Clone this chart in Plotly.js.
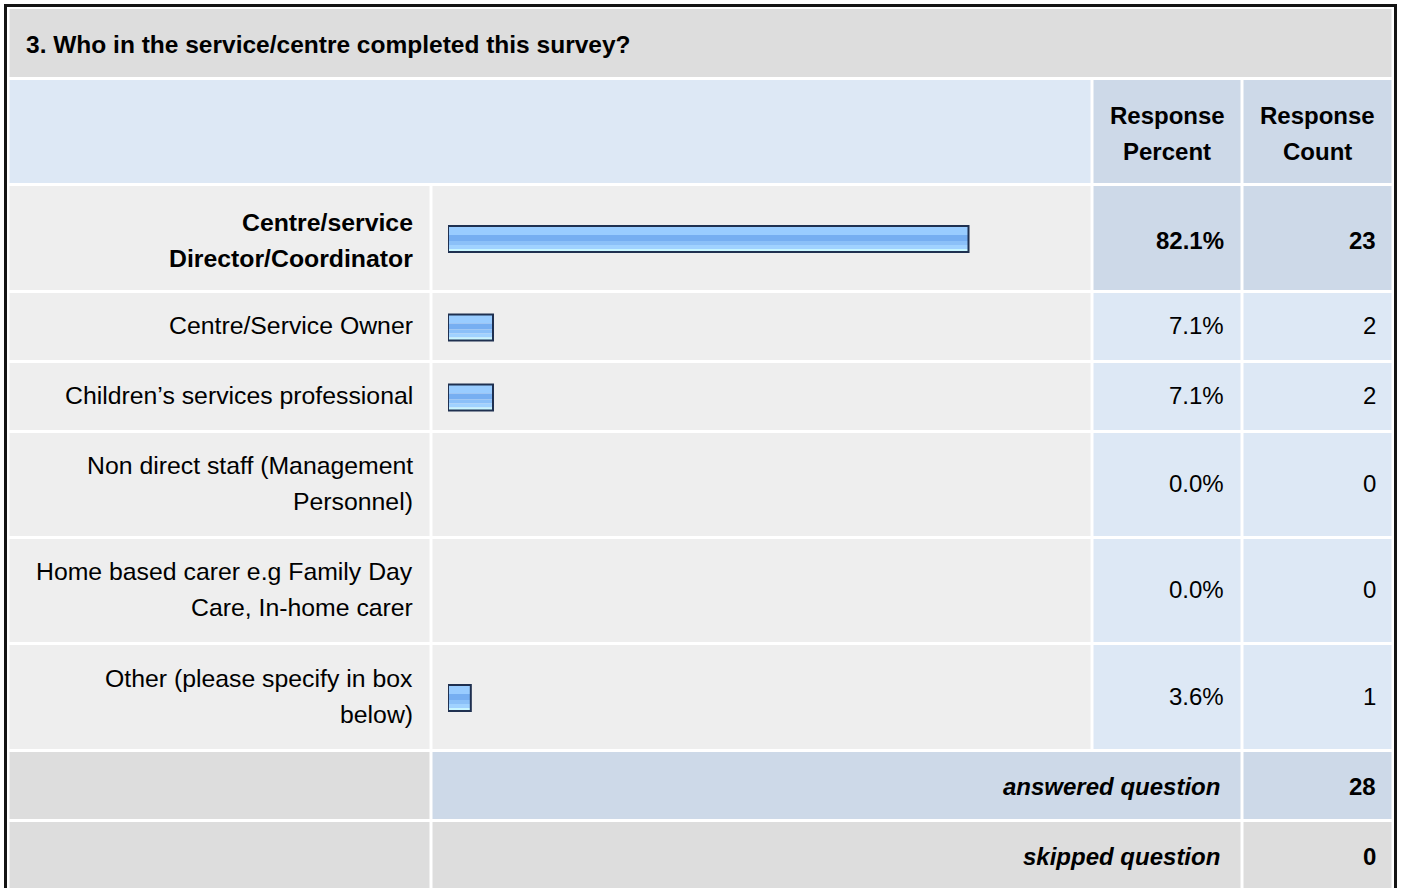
<!DOCTYPE html>
<html>
<head>
<meta charset="utf-8">
<script src="https://cdn.plot.ly/plotly-3.0.1.min.js"></script>
<style>
html,body{margin:0;padding:0;background:#fff;}
#chart{width:1401px;height:888px;}
</style>
</head>
<body>
<div id="chart"></div>
<script>
// ---- data ----
const questionTitle = "3. Who in the service/centre completed this survey?";
const categories = [
  "Centre/service Director/Coordinator",
  "Centre/Service Owner",
  "Children\u2019s services professional",
  "Non direct staff (Management Personnel)",
  "Home based carer e.g Family Day Care, In-home carer",
  "Other (please specify in box below)"
];
const categoryLines = [
  ["Centre/service", "Director/Coordinator"],
  ["Centre/Service Owner"],
  ["Children\u2019s services professional"],
  ["Non direct staff (Management", "Personnel)"],
  ["Home based carer e.g Family Day", "Care, In-home carer"],
  ["Other (please specify in box", "below)"]
];
const responsePercent = [82.1, 7.1, 7.1, 0.0, 0.0, 3.6];
const responseCount = [23, 2, 2, 0, 0, 1];
const headerPercent = ["Response", "Percent"];
const headerCount = ["Response", "Count"];
const answeredLabel = "answered question";
const answeredCount = 28;
const skippedLabel = "skipped question";
const skippedCount = 0;

// ---- layout geometry (pixels) ----
const W = 1401, H = 888;
const FONT = "Liberation Sans, Arial, Helvetica, sans-serif";
const cols = [[9.5, 429.5], [432.5, 1090.5], [1093.5, 1240.5], [1243.5, 1391.5]];
const titleRow = [9, 77];
const headerRow = [80, 183];
const dataRows = [[186, 290], [293, 360], [363, 430], [433, 536], [539, 642], [645, 749]];
const textNudge = [2, -1, -1, -1, -1, -1];
const answeredRow = [752, 819];
const skippedRow = [822, 895];
const labelRight = 413, pctRight = 1224, cntRight = 1376, summaryRight = 1220;
const lineGap = 36;

const C_GRAY = "#dddddd", C_ROW = "#eeeeee", C_LBLUE = "#dde8f5", C_BLUE = "#cdd9e8";

function px(x) { return x / W; }
function py(y) { return 1 - y / H; }

// highlight the max row
const maxIdx = responsePercent.indexOf(Math.max.apply(null, responsePercent));

const shapes = [];
function cell(x0, x1, y0, y1, color) {
  shapes.push({type: "rect", xref: "paper", yref: "paper", x0: px(x0), x1: px(x1), y0: py(y0), y1: py(y1),
    fillcolor: color, line: {width: 0}, layer: "below"});
}
cell(cols[0][0], cols[3][1], titleRow[0], titleRow[1], C_GRAY);
cell(cols[0][0], cols[1][1], headerRow[0], headerRow[1], C_LBLUE);
cell(cols[2][0], cols[2][1], headerRow[0], headerRow[1], C_BLUE);
cell(cols[3][0], cols[3][1], headerRow[0], headerRow[1], C_BLUE);
dataRows.forEach(function (r, i) {
  cell(cols[0][0], cols[0][1], r[0], r[1], C_ROW);
  cell(cols[1][0], cols[1][1], r[0], r[1], C_ROW);
  const c = (i === maxIdx) ? C_BLUE : C_LBLUE;
  cell(cols[2][0], cols[2][1], r[0], r[1], c);
  cell(cols[3][0], cols[3][1], r[0], r[1], c);
});
cell(cols[0][0], cols[0][1], answeredRow[0], answeredRow[1], C_GRAY);
cell(cols[1][0], cols[2][1], answeredRow[0], answeredRow[1], C_BLUE);
cell(cols[3][0], cols[3][1], answeredRow[0], answeredRow[1], C_BLUE);
cell(cols[0][0], cols[0][1], skippedRow[0], skippedRow[1], C_GRAY);
cell(cols[1][0], cols[2][1], skippedRow[0], skippedRow[1], C_GRAY);
cell(cols[3][0], cols[3][1], skippedRow[0], skippedRow[1], C_GRAY);
// outer frame
shapes.push({type: "rect", xref: "paper", yref: "paper", x0: px(5.5), x1: px(1395.5), y0: py(5.5), y1: py(1000),
  fillcolor: "rgba(0,0,0,0)", line: {color: "#141414", width: 3}, layer: "above"});

const annotations = [];
function txt(s, x, y, anchor, opts) {
  opts = opts || {};
  annotations.push({xref: "paper", yref: "paper", x: px(x), y: py(y), text: s, showarrow: false,
    xanchor: anchor, yanchor: "middle", borderpad: 0, borderwidth: 0,
    font: {family: FONT, size: opts.size || 24, color: "#000",
      weight: opts.bold ? 700 : 400, style: opts.italic ? "italic" : "normal"}});
}
txt(questionTitle, 26, (titleRow[0] + titleRow[1]) / 2 + 2, "left", {bold: true, size: 24.5});
const hc = (headerRow[0] + headerRow[1]) / 2 + 2;
txt(headerPercent[0], (cols[2][0] + cols[2][1]) / 2, hc - lineGap / 2, "center", {bold: true});
txt(headerPercent[1], (cols[2][0] + cols[2][1]) / 2, hc + lineGap / 2, "center", {bold: true});
txt(headerCount[0], (cols[3][0] + cols[3][1]) / 2, hc - lineGap / 2, "center", {bold: true});
txt(headerCount[1], (cols[3][0] + cols[3][1]) / 2, hc + lineGap / 2, "center", {bold: true});

const rowCenters = dataRows.map(function (r) { return (r[0] + r[1]) / 2; });
categoryLines.forEach(function (lines, i) {
  const bold = (i === maxIdx);
  const c = rowCenters[i] + textNudge[i];
  const n = lines.length;
  lines.forEach(function (ln, k) {
    txt(ln, labelRight, c + (k - (n - 1) / 2) * lineGap, "right", {bold: bold, size: 24.8});
  });
  txt(responsePercent[i].toFixed(1) + "%", pctRight, c, "right", {bold: bold});
  txt(String(responseCount[i]), cntRight, c, "right", {bold: bold});
});
const ac = (answeredRow[0] + answeredRow[1]) / 2 + 1;
txt(answeredLabel, summaryRight, ac, "right", {bold: true, italic: true});
txt(String(answeredCount), cntRight, ac, "right", {bold: true});
const sc = (skippedRow[0] + 889) / 2 + 1;
txt(skippedLabel, summaryRight, sc, "right", {bold: true, italic: true});
txt(String(skippedCount), cntRight, sc, "right", {bold: true});

// ---- bars (gradient via stacked stripe traces) ----
const barY = rowCenters.map(function (c) { return c + 1; });
const stripes = [
  {off: -13, w: 9, color: "#99ccff"},
  {off: -4, w: 6, color: "#76aef1"},
  {off: 2, w: 4, color: "#8bc0f8"},
  {off: 6, w: 4, color: "#a0d2ff"},
  {off: 10, w: 3, color: "#c8f6ff"}
];
const traces = stripes.map(function (s) {
  return {type: "bar", orientation: "h", x: responsePercent, y: barY,
    width: s.w, offset: s.off,
    marker: {color: s.color, line: {width: 0}}, hoverinfo: "skip", showlegend: false};
});
traces.push({type: "bar", orientation: "h", x: responsePercent, y: barY,
  width: 26, offset: -13,
  marker: {color: "rgba(0,0,0,0)",
    line: {color: "#1f3050", width: responsePercent.map(function (v) { return v > 0 ? 2 : 0; })}},
  hoverinfo: "skip", showlegend: false});

const layout = {
  width: W, height: H,
  margin: {l: 0, r: 0, t: 0, b: 0, pad: 0},
  paper_bgcolor: "#ffffff", plot_bgcolor: "rgba(0,0,0,0)",
  barmode: "overlay",
  showlegend: false,
  xaxis: {domain: [448 / W, 1082 / W], range: [0, 100], visible: false, fixedrange: true},
  yaxis: {domain: [0, 1], range: [H, 0], visible: false, fixedrange: true},
  shapes: shapes,
  annotations: annotations
};
Plotly.newPlot("chart", traces, layout, {displayModeBar: false, staticPlot: true});
</script>
</body>
</html>
